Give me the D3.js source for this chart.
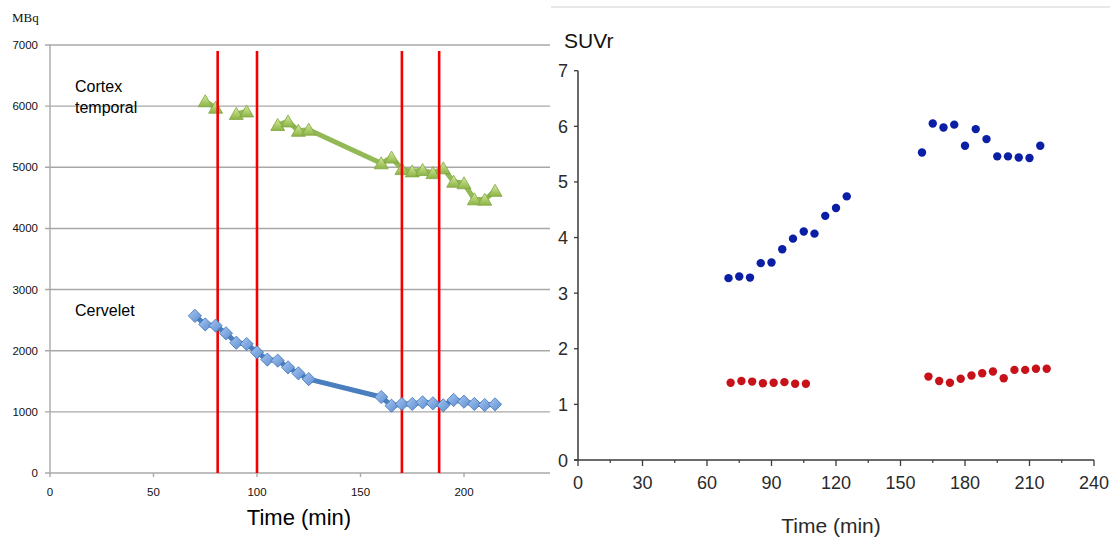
<!DOCTYPE html>
<html><head><meta charset="utf-8">
<script src="https://cdn.jsdelivr.net/npm/d3@7"></script>
<style>body{margin:0;background:#fff}svg{display:block}</style>
</head><body>
<svg id="c" width="1110" height="540"></svg>
<script>
// ---------- Left panel data (MBq) ----------
const timesL = [70,75,80,85,90,95,100,105,110,115,120,125,160,165,170,175,180,185,190,195,200,205,210,215];
const cervelet = [2570,2430,2410,2285,2131,2110,1974,1855,1838,1728,1630,1535,1243,1101,1129,1129,1156,1140,1107,1194,1166,1129,1112,1123];
const cortex = [null,6080,5975,null,5873,5913,null,null,5692,5750,5597,5615,5065,5160,4970,4933,4955,4905,4983,4764,4738,4476,4470,4615];
const redLines = [81,100,170,188];
const redTop = 6900;
const yTicksL = [0,1000,2000,3000,4000,5000,6000,7000];
const xTicksL = [0,50,100,150,200];
const labelCortex = ["Cortex","temporal"];
const labelCervelet = "Cervelet";

// ---------- Right panel data (SUVr) ----------
const blueT = [70,75,80,85,90,95,100,105,110,115,120,125,160,165,170,175,180,185,190,195,200,205,210,215];
const blueV = [3.27,3.30,3.28,3.54,3.55,3.79,3.98,4.11,4.07,4.39,4.53,4.74,5.53,6.05,5.98,6.03,5.65,5.95,5.77,5.46,5.46,5.44,5.43,5.65];
const redT = [71,76,81,86,91,96,101,106,163,168,173,178,183,188,193,198,203,208,213,218];
const redV = [1.39,1.42,1.41,1.38,1.39,1.40,1.37,1.37,1.50,1.42,1.39,1.46,1.52,1.56,1.59,1.47,1.62,1.62,1.64,1.64];
const yTicksR = [0,1,2,3,4,5,6,7];
const xTicksR = [0,30,60,90,120,150,180,210,240];
const xMinorR = [15,45,75,105,135,165,195,225];

const svg = d3.select("#c");
const defs = svg.append("defs");
const gGreen = defs.append("linearGradient").attr("id","gg").attr("x1",0).attr("y1",0).attr("x2",0).attr("y2",1);
gGreen.append("stop").attr("offset","0%").attr("stop-color","#d4ec9c");
gGreen.append("stop").attr("offset","100%").attr("stop-color","#8db446");
const gBlue = defs.append("linearGradient").attr("id","gb").attr("x1",0).attr("y1",0).attr("x2",1).attr("y2",1);
gBlue.append("stop").attr("offset","0%").attr("stop-color","#a9c8f0");
gBlue.append("stop").attr("offset","100%").attr("stop-color","#5a8bd0");

// ================= LEFT PANEL =================
const xL = d3.scaleLinear().domain([0,250]).range([50,567.5]);
const yL = d3.scaleLinear().domain([0,7000]).range([473,45]);
const leftEdge = 45, rightEdge = 550;
const L = svg.append("g");

// gridlines
L.selectAll("line.grid").data(yTicksL).join("line")
  .attr("x1",leftEdge).attr("x2",rightEdge)
  .attr("y1",d=>yL(d)).attr("y2",d=>yL(d))
  .attr("stroke","#a8a8a8").attr("stroke-width",1.4);
// y axis line
L.append("line").attr("x1",xL(0)).attr("x2",xL(0)).attr("y1",yL(7000)).attr("y2",yL(0))
  .attr("stroke","#a8a8a8").attr("stroke-width",1.4);
// x ticks
L.selectAll("line.xt").data(xTicksL).join("line")
  .attr("x1",d=>xL(d)).attr("x2",d=>xL(d)).attr("y1",yL(0)).attr("y2",yL(0)+4)
  .attr("stroke","#a8a8a8").attr("stroke-width",1.4);
// y tick labels
L.selectAll("text.yl").data(yTicksL).join("text")
  .attr("x",38).attr("y",d=>yL(d)+4)
  .attr("text-anchor","end").attr("font-family","Liberation Sans, Arial, sans-serif")
  .attr("font-size",11.5).attr("fill","#111").text(d=>d);
// x tick labels
L.selectAll("text.xl").data(xTicksL).join("text")
  .attr("x",d=>xL(d)).attr("y",496)
  .attr("text-anchor","middle").attr("font-family","Liberation Sans, Arial, sans-serif")
  .attr("font-size",11.5).attr("fill","#111").text(d=>d);
// titles
L.append("text").attr("x",12).attr("y",22).attr("font-family","Liberation Serif, serif")
  .attr("font-size",13).attr("fill","#111").text("MBq");
L.append("text").attr("x",299).attr("y",525).attr("text-anchor","middle")
  .attr("font-family","Liberation Sans, Arial, sans-serif").attr("font-size",22).attr("fill","#000").text("Time (min)");
L.selectAll("text.cx").data(labelCortex).join("text")
  .attr("x",75).attr("y",(d,i)=>92+i*21)
  .attr("font-family","Liberation Sans, Arial, sans-serif").attr("font-size",16).attr("fill","#000").text(d=>d);
L.append("text").attr("x",75).attr("y",316)
  .attr("font-family","Liberation Sans, Arial, sans-serif").attr("font-size",16).attr("fill","#000").text(labelCervelet);

// cortex line + markers
const cortexData = timesL.map((t,i)=>({t, v:cortex[i]}));
const lineL = d3.line().defined(d=>d.v!=null).x(d=>xL(d.t)).y(d=>yL(d.v));
L.append("path").datum(cortexData).attr("d",lineL)
  .attr("fill","none").attr("stroke","#93b956").attr("stroke-width",5).attr("stroke-linejoin","round");
const tri = "M0,-6.5 L7,5.5 L-7,5.5 Z";
L.selectAll("path.tri").data(cortexData.filter(d=>d.v!=null)).join("path")
  .attr("d",tri).attr("transform",d=>`translate(${xL(d.t)},${yL(d.v)})`)
  .attr("fill","url(#gg)").attr("stroke","#7fa540").attr("stroke-width",0.8);

// red vertical lines
L.selectAll("line.red").data(redLines).join("line")
  .attr("x1",d=>xL(d)).attr("x2",d=>xL(d)).attr("y1",yL(redTop)).attr("y2",yL(0))
  .attr("stroke","#f00000").attr("stroke-width",2.6);

// cervelet line + markers
const cervData = timesL.map((t,i)=>({t, v:cervelet[i]}));
L.append("path").datum(cervData).attr("d",lineL)
  .attr("fill","none").attr("stroke","#4a7ebf").attr("stroke-width",5).attr("stroke-linejoin","round");
const dia = "M0,-6.6 L6.6,0 L0,6.6 L-6.6,0 Z";
L.selectAll("path.dia").data(cervData).join("path")
  .attr("d",dia).attr("transform",d=>`translate(${xL(d.t)},${yL(d.v)})`)
  .attr("fill","url(#gb)").attr("stroke","#3f72b5").attr("stroke-width",0.8);

// ================= RIGHT PANEL =================
const R = svg.append("g");
const xR = d3.scaleLinear().domain([0,240]).range([578,1094]);
const yR = d3.scaleLinear().domain([0,7]).range([460,70.7]);
const axisCol = "#3a3a3a", txtCol = "#2a2a2a";

R.append("line").attr("x1",551).attr("x2",1110).attr("y1",7).attr("y2",7)
  .attr("stroke","#d2d2d2").attr("stroke-width",1);

R.append("line").attr("x1",xR(0)).attr("x2",xR(0)).attr("y1",yR(0)).attr("y2",yR(7))
  .attr("stroke",axisCol).attr("stroke-width",1.5);
R.append("line").attr("x1",xR(0)-4).attr("x2",xR(240)).attr("y1",yR(0)).attr("y2",yR(0))
  .attr("stroke",axisCol).attr("stroke-width",1.5);
R.selectAll("line.yt").data(yTicksR).join("line")
  .attr("x1",xR(0)-4).attr("x2",xR(0)).attr("y1",d=>yR(d)).attr("y2",d=>yR(d))
  .attr("stroke",axisCol).attr("stroke-width",1.3);
R.selectAll("line.xt").data(xTicksR).join("line")
  .attr("x1",d=>xR(d)).attr("x2",d=>xR(d)).attr("y1",yR(0)).attr("y2",yR(0)+6)
  .attr("stroke",axisCol).attr("stroke-width",1.3);
R.selectAll("line.xm").data(xMinorR).join("line")
  .attr("x1",d=>xR(d)).attr("x2",d=>xR(d)).attr("y1",yR(0)).attr("y2",yR(0)+3)
  .attr("stroke",axisCol).attr("stroke-width",1.2);

R.selectAll("text.yl").data(yTicksR).join("text")
  .attr("x",568).attr("y",d=>yR(d)+6.5).attr("text-anchor","end")
  .attr("font-family","Liberation Sans, Arial, sans-serif").attr("font-size",18).attr("fill",txtCol).text(d=>d);
R.selectAll("text.xl").data(xTicksR).join("text")
  .attr("x",d=>xR(d)).attr("y",489).attr("text-anchor","middle")
  .attr("font-family","Liberation Sans, Arial, sans-serif").attr("font-size",18).attr("fill",txtCol).text(d=>d);
R.append("text").attr("x",564).attr("y",48)
  .attr("font-family","Liberation Sans, Arial, sans-serif").attr("font-size",21).attr("fill","#111").text("SUVr");
R.append("text").attr("x",831).attr("y",533).attr("text-anchor","middle")
  .attr("font-family","Liberation Sans, Arial, sans-serif").attr("font-size",21).attr("fill",txtCol).text("Time (min)");

R.selectAll("circle.b").data(blueT.map((t,i)=>({t,v:blueV[i]}))).join("circle")
  .attr("cx",d=>xR(d.t)).attr("cy",d=>yR(d.v)).attr("r",4.2).attr("fill","#0a1ea6");
R.selectAll("circle.r").data(redT.map((t,i)=>({t,v:redV[i]}))).join("circle")
  .attr("cx",d=>xR(d.t)).attr("cy",d=>yR(d.v)).attr("r",4.2).attr("fill","#c8121a");
</script>
</body></html>
